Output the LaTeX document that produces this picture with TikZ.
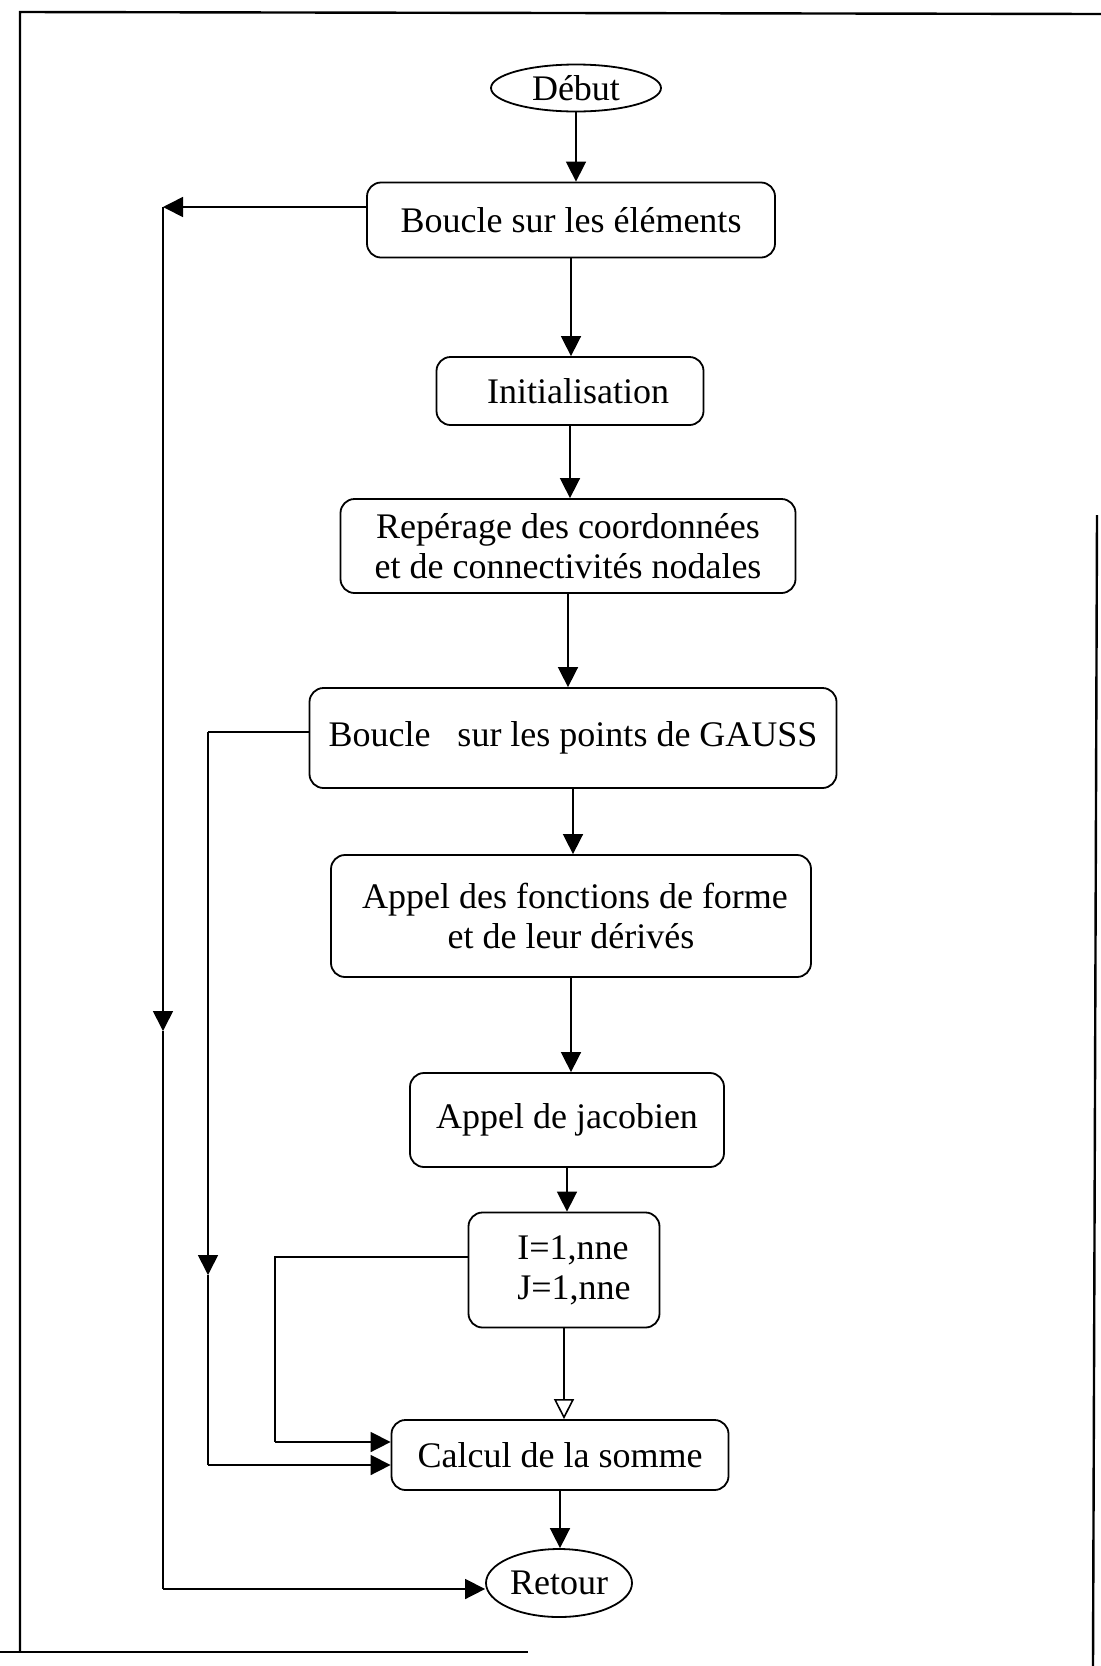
\documentclass[tikz,border=0pt]{standalone}
\usepackage{fontspec}
\setmainfont{Liberation Serif}
\usetikzlibrary{arrows.meta,positioning,shapes}

\begin{document}
\begin{tikzpicture}[x=0.5pt,y=-0.5pt,
  box/.style={draw,rounded corners=7pt,line width=0.9pt,align=center,inner sep=2pt,font=\fontsize{18}{20}\selectfont},
  term/.style={draw,ellipse,line width=0.9pt,inner sep=0pt,font=\fontsize{18}{20}\selectfont},
  link/.style={line width=0.8pt},
  arr/.style={link,-{Triangle[length=10pt,width=10pt]}},
  arro/.style={link,-{Triangle[open,length=10pt,width=10pt]}}]
\useasboundingbox (0,0) rectangle (1101,1666);
% cadre de la page
\draw[line width=1.2pt] (1101,14) -- (20,12) -- (20,1652);
\draw[line width=1.2pt] (0,1652) -- (528,1652);
\draw[line width=1.2pt] (1097,515) -- (1093,1666);

\node[term,minimum width=85pt,minimum height=23.5pt] (debut) at (576,88) {Début};
\node[box,minimum width=204pt,minimum height=37.5pt] (boucle) at (571,220) {Boucle sur les éléments};
\node[box,minimum width=133.5pt,minimum height=34pt] (init) at (570,391) {\hspace{8pt}Initialisation};
\node[box,minimum width=227.5pt,minimum height=47pt] (repere) at (568,546) {Repérage des coordonnées\\et de connectivités nodales};
\node[box,minimum width=263.5pt,minimum height=50pt] (gauss) at (573,738) {Boucle\ \ \ sur les points de GAUSS};
\node[box,minimum width=240pt,minimum height=61pt] (fonct) at (571,916) {\hspace{4pt}Appel des fonctions de forme\\et de leur dérivés};
\node[box,minimum width=157pt,minimum height=47pt] (jacob) at (567,1120) {Appel de jacobien};
\node[box,minimum width=95.5pt,minimum height=57.5pt,align=left] (bij) at (564,1270) {\hspace{10pt}I=1,nne\\\hspace{10pt}J=1,nne};
\node[box,minimum width=168.5pt,minimum height=35pt] (calcul) at (560,1455) {Calcul de la somme};
\node[term,minimum width=73pt,minimum height=34pt] (retour) at (559,1583) {Retour};

\draw[arr] (debut) -- (debut |- boucle.north);
\draw[arr] (boucle.south) -- (boucle.south |- init.north);
\draw[arr] (init.south) -- (init.south |- repere.north);
\draw[arr] (repere.south) -- (repere.south |- gauss.north);
\draw[arr] (gauss.south) -- (gauss.south |- fonct.north);
\draw[arr] (fonct.south) -- (fonct.south |- jacob.north);
\draw[arr] (jacob.south) -- (jacob.south |- bij.north);
\draw[arro] (bij.south) -- (bij.south |- calcul.north);
\draw[arr] (calcul.south) -- (calcul.south |- retour.north);

% boucle sur les elements
\coordinate (o1) at (163,207);
\coordinate (o2) at (163,1031);
\coordinate (o3) at (163,1589);
\draw[arr] (boucle.west |- o1) -- (o1);
\draw[arr] (o1) -- (o2);
\draw[link] (o2) -- (o3);
\draw[arr] (o3) -- (retour.west |- o3);

% boucle sur les points de Gauss
\coordinate (g1) at (208,732);
\coordinate (g2) at (208,1275);
\coordinate (g3) at (208,1465);
\draw[link] (gauss.west |- g1) -- (g1);
\draw[arr] (g1) -- (g2);
\draw[link] (g2) -- (g3);
\draw[arr] (g3) -- (calcul.west |- g3);

% boucle I,J
\coordinate (b1) at (275,1257);
\coordinate (b2) at (275,1442);
\draw[link] (bij.west |- b1) -- (b1) -- (b2);
\draw[arr] (b2) -- (calcul.west |- b2);
\end{tikzpicture}
\end{document}
